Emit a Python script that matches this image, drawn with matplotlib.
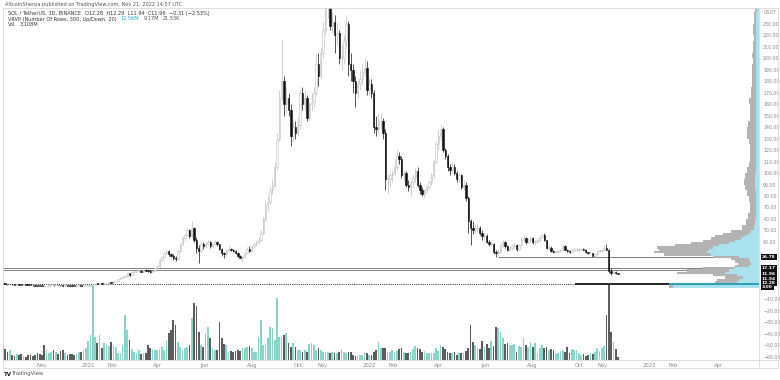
import numpy as np
import pandas as pd
import matplotlib
matplotlib.use("Agg")
import matplotlib.pyplot as plt
import matplotlib.dates as mdates
from matplotlib.lines import Line2D

# SOL/USDT, 3-day candles
closes = [
    3.4, 3.2, 3.0, 3.1, 2.9, 2.8, 3.0, 2.7, 2.6, 2.7,
    2.5, 2.4, 2.3, 2.0, 1.8, 1.6, 1.5, 1.4, 1.3, 1.7,
    2.0, 2.2, 2.1, 2.4, 2.2, 2.0, 1.9, 2.0, 1.9, 1.7,
    1.6, 1.5, 1.6, 1.6, 1.4, 1.5, 1.5, 1.8, 2.2, 3.0,
    3.4, 3.3, 3.5, 3.3, 3.6, 4.0, 4.5, 4.2, 5.5, 5.8,
    7.5, 8.8, 9.5, 10.5, 12.5, 11.5, 13.5, 14.2, 14.5, 15.0,
    14.0, 15.5, 14.8, 14.5, 14.0, 15.0, 17.0, 19.0, 24.0, 27.0,
    30.0, 32.0, 29.0, 28.0, 26.0, 25.0, 32.0, 38.0, 43.0, 46.0,
    50.0, 45.0, 52.0, 42.0, 35.0, 32.0, 38.0, 36.0, 38.0, 40.0,
    36.0, 38.0, 40.0, 38.0, 34.0, 30.0, 29.0, 33.0, 34.0, 33.0,
    32.0, 30.0, 28.0, 26.0, 27.0, 30.0, 34.0, 32.0, 36.0, 38.0,
    40.0, 42.0, 48.0, 60.0, 72.0, 75.0, 85.0, 90.0, 105.0, 130.0,
    165.0, 180.0, 160.0, 165.0, 155.0, 132.0, 140.0, 135.0, 142.0, 170.0,
    160.0, 165.0, 148.0, 160.0, 162.0, 170.0, 195.0, 185.0, 205.0, 225.0,
    245.0, 250.0, 228.0, 232.0, 220.0, 222.0, 200.0, 200.0, 215.0, 230.0,
    195.0, 190.0, 180.0, 170.0, 178.0, 182.0, 188.0, 192.0, 172.0, 178.0,
    170.0, 140.0, 138.0, 145.0, 145.0, 135.0, 95.0, 95.0, 98.0, 100.0,
    105.0, 115.0, 112.0, 98.0, 100.0, 90.0, 88.0, 92.0, 96.0, 102.0,
    90.0, 85.0, 82.0, 85.0, 88.0, 92.0, 98.0, 110.0, 125.0, 132.0,
    138.0, 120.0, 115.0, 105.0, 103.0, 105.0, 100.0, 95.0, 98.0, 88.0,
    90.0, 78.0, 58.0, 52.0, 50.0, 52.0, 52.0, 48.0, 45.0, 45.0,
    40.0, 38.0, 38.0, 31.0, 30.0, 31.0, 37.0, 40.0, 36.0, 33.0,
    35.0, 36.0, 37.0, 34.0, 37.0, 42.0, 43.0, 40.0, 42.0, 43.0,
    40.0, 40.0, 42.0, 44.0, 46.0, 42.0, 35.0, 35.0, 32.0, 31.0,
    31.0, 32.0, 33.0, 36.0, 33.0, 32.0, 31.0, 33.0, 33.0, 33.0,
    33.0, 34.0, 33.0, 31.0, 30.0, 30.0, 28.0, 29.0, 32.0, 32.0,
    33.0, 35.0, 33.0, 15.0, 13.0, 14.0, 12.5, 11.96,
]
highs = [
    3.6, 3.5, 3.3, 3.3, 3.2, 3.0, 3.2, 3.1, 2.8, 2.9,
    2.8, 2.6, 2.5, 2.4, 2.1, 1.9, 1.7, 1.6, 1.5, 1.8,
    2.2, 2.4, 2.4, 2.6, 2.5, 2.3, 2.1, 2.1, 2.1, 2.0,
    1.8, 1.7, 1.7, 1.8, 1.7, 1.6, 1.6, 1.9, 2.3, 3.3,
    3.9, 3.8, 3.7, 3.7, 3.8, 4.2, 4.8, 4.8, 5.8, 6.3,
    8.0, 9.5, 10.5, 11.5, 13.0, 13.2, 14.0, 16.0, 15.5, 16.5,
    15.8, 16.5, 16.0, 15.5, 15.2, 15.6, 17.5, 20.0, 25.0, 28.0,
    31.0, 34.0, 33.0, 30.0, 29.5, 27.5, 33.0, 39.0, 45.0, 47.0,
    52.0, 51.0, 58.0, 53.0, 44.0, 37.0, 40.0, 40.0, 40.0, 42.0,
    41.0, 39.0, 42.0, 41.0, 38.0, 35.0, 31.5, 34.0, 36.0, 35.0,
    34.0, 32.5, 31.0, 28.5, 28.0, 31.0, 35.5, 36.0, 37.0, 40.0,
    42.0, 44.0, 50.0, 62.0, 77.0, 80.0, 88.0, 95.0, 110.0, 135.0,
    172.0, 216.0, 185.0, 175.0, 170.0, 160.0, 145.0, 145.0, 148.0, 172.0,
    175.0, 172.0, 168.0, 162.0, 170.0, 175.0, 205.0, 205.0, 210.0, 232.0,
    255.0, 260.0, 252.0, 240.0, 238.0, 232.0, 225.0, 212.0, 220.0, 238.0,
    233.0, 205.0, 195.0, 185.0, 182.0, 190.0, 195.0, 200.0, 198.0, 182.0,
    182.0, 172.0, 150.0, 152.0, 152.0, 148.0, 138.0, 100.0, 102.0, 103.0,
    112.0, 120.0, 118.0, 115.0, 103.0, 102.0, 94.0, 93.0, 99.0, 104.0,
    105.0, 92.0, 88.0, 86.0, 90.0, 94.0, 100.0, 112.0, 127.0, 138.0,
    143.0, 140.0, 122.0, 117.0, 108.0, 110.0, 108.0, 102.0, 100.0, 99.0,
    94.0, 92.0, 80.0, 60.0, 58.0, 56.0, 56.0, 54.0, 50.0, 48.0,
    47.0, 42.0, 41.0, 39.0, 33.0, 34.0, 38.0, 42.0, 41.0, 37.0,
    36.0, 38.0, 39.0, 38.0, 38.0, 44.0, 46.0, 44.0, 43.0, 45.0,
    44.0, 42.0, 43.0, 45.0, 47.0, 48.0, 42.0, 37.0, 36.0, 33.0,
    32.5, 33.0, 34.0, 38.0, 37.0, 34.0, 33.0, 34.0, 35.0, 35.0,
    34.5, 35.0, 35.0, 34.0, 31.5, 31.0, 30.5, 30.0, 33.0, 33.5,
    34.0, 37.0, 38.5, 34.0, 17.5, 14.5, 14.5, 12.6,
]
lows = [
    3.2, 3.0, 2.8, 2.9, 2.8, 2.6, 2.7, 2.6, 2.5, 2.5,
    2.4, 2.3, 2.1, 1.9, 1.7, 1.5, 1.4, 1.3, 1.1, 1.3,
    1.6, 1.9, 1.9, 2.0, 2.1, 1.9, 1.8, 1.8, 1.8, 1.6,
    1.5, 1.4, 1.4, 1.5, 1.3, 1.3, 1.4, 1.4, 1.7, 2.1,
    2.7, 2.9, 3.1, 3.1, 3.2, 3.5, 3.9, 3.8, 4.1, 5.1,
    5.6, 7.2, 8.2, 9.0, 10.2, 10.5, 11.3, 13.0, 13.2, 14.0,
    13.5, 13.8, 14.2, 14.0, 13.2, 13.8, 14.7, 16.8, 18.5, 23.0,
    26.0, 29.0, 28.0, 27.0, 24.0, 23.5, 24.5, 31.0, 37.0, 41.0,
    45.0, 43.0, 44.0, 40.0, 30.0, 22.0, 31.0, 34.0, 35.0, 37.0,
    35.0, 35.0, 37.0, 36.0, 33.0, 28.0, 25.5, 28.0, 32.0, 32.0,
    31.0, 29.0, 27.0, 25.5, 22.5, 26.0, 29.5, 31.0, 31.5, 35.0,
    36.0, 38.0, 41.0, 47.0, 58.0, 67.0, 73.0, 82.0, 88.0, 103.0,
    128.0, 163.0, 150.0, 152.0, 150.0, 124.0, 128.0, 130.0, 132.0, 138.0,
    155.0, 155.0, 145.0, 146.0, 155.0, 158.0, 168.0, 176.0, 182.0, 200.0,
    220.0, 235.0, 225.0, 222.0, 205.0, 212.0, 195.0, 190.0, 195.0, 210.0,
    185.0, 180.0, 170.0, 158.0, 165.0, 172.0, 178.0, 185.0, 168.0, 168.0,
    165.0, 135.0, 132.0, 135.0, 138.0, 130.0, 85.0, 82.0, 88.0, 92.0,
    98.0, 103.0, 108.0, 96.0, 93.0, 88.0, 84.0, 80.0, 88.0, 92.0,
    88.0, 82.0, 80.0, 78.0, 83.0, 86.0, 90.0, 96.0, 108.0, 120.0,
    128.0, 118.0, 112.0, 102.0, 98.0, 100.0, 98.0, 92.0, 92.0, 86.0,
    85.0, 76.0, 48.0, 37.0, 47.0, 48.0, 49.0, 46.0, 42.0, 42.0,
    39.0, 36.0, 36.0, 29.0, 26.78, 28.0, 30.0, 35.0, 35.0, 32.0,
    32.0, 33.0, 35.0, 32.0, 33.0, 36.0, 40.0, 38.0, 39.0, 40.0,
    38.0, 37.0, 39.0, 41.0, 43.0, 41.0, 34.0, 33.0, 31.0, 30.0,
    30.0, 30.5, 31.0, 32.0, 32.5, 31.0, 30.0, 30.5, 32.0, 32.0,
    32.0, 32.5, 32.5, 30.0, 29.0, 29.0, 27.5, 27.5, 28.5, 31.0,
    31.5, 32.0, 32.5, 13.0, 11.5, 12.5, 12.2, 11.8,
]
first_open = 3.5

# volume (relative units, read as bar heights)
volumes = [
    12, 11, 8, 10, 5, 4, 6, 5, 6, 4, 3, 5, 5, 4, 5, 7, 6, 5, 15, 10,
    7, 8, 10, 8, 6, 9, 10, 7, 5, 6, 6, 5, 6, 8, 8, 10, 12,
    19, 25, 75, 23, 17, 25, 12, 17, 15, 14, 18, 14, 13, 7, 7, 15, 45, 30,
    20, 11, 8, 7, 10, 6, 7, 7, 15, 12, 10,
    10, 10, 11, 13, 10, 20, 27, 30, 40, 35, 18, 13, 10, 12, 13, 15, 42, 57, 54, 28,
    15, 13, 27, 33, 22, 12, 10, 10, 38, 22, 16, 15, 8, 9, 8, 9, 10, 9, 12, 12,
    13, 14, 12, 8, 8, 23, 40, 15, 16, 22, 33, 32, 20, 62, 23, 23, 25, 27, 17, 13,
    17, 13, 10, 10, 8, 10, 8, 16, 17, 15, 10, 12, 10, 8, 8, 8, 7, 8, 7, 7,
    8, 11, 8, 7, 8, 8, 5, 4, 4, 5, 5, 7, 7, 5, 5, 8, 10, 18, 12, 12,
    12, 8, 8, 10, 8, 9, 11,
    12, 8, 7, 7, 8, 11, 14, 12, 11, 8, 9, 7, 7, 7, 7, 12, 9, 15, 13, 11,
    8, 7, 7, 8, 5, 7, 7, 7, 9, 12, 35, 18, 15, 12, 11, 19, 13, 16, 12, 19,
    14, 33, 32, 28, 22, 16, 17, 15, 15, 16, 8, 14, 13, 22, 15, 13, 18, 13, 17, 7,
    12, 15, 12, 13, 10, 11, 10, 6, 7, 9, 10, 8, 13, 7, 11, 10, 10, 7, 5, 6,
    4, 5, 7, 6, 8, 12, 9, 12, 14, 45, 75, 28, 18, 11, 3,
]

# visible range volume profile (rows: low price, row height, up / down volume)
vp_low = list(range(0, 50, 2)) + list(range(50, 245, 5))
vp_step = [2] * 25 + [5] * 39
vp_up = [
    86, 90, 22, 20, 16, 22, 34, 30, 24, 10, 8, 9, 10, 20, 48, 52, 50, 46, 40, 30,
    24, 18, 14, 10, 8,
    5, 4, 3, 3, 3, 3, 3, 4, 4, 4, 3, 3, 3, 3, 3, 3, 3, 3, 3, 3,
    3, 3, 3, 3, 3, 3, 3, 3, 3, 3, 3, 3, 3, 3, 3, 3, 3, 3, 2,
]
vp_down = [
    4, 94, 22, 22, 18, 24, 48, 42, 32, 14, 13, 15, 18, 26, 47, 53, 50, 56, 44, 38,
    32, 30, 30, 26, 20,
    12, 9, 8, 6, 6, 7, 9, 10, 11, 10, 9, 7, 6, 6, 6, 7, 9, 9, 8, 6,
    6, 6, 7, 5, 5, 4, 4, 4, 4, 3, 4, 3, 3, 2, 3, 3, 2, 2, 2,
]

# drawn levels
level_prices = [26.78, 17.17, 15.86]
level_starts = ["2022-06-18", "2020-09-08", "2020-09-08"]
dotted_level = 3.00
last_price = 11.96

dates = pd.date_range("2020-09-11", periods=len(closes), freq="3D")
x = mdates.date2num(dates)
c = np.array(closes)
o = np.r_[first_open, c[:-1]]
h = np.maximum(np.array(highs), np.maximum(o, c))
l = np.minimum(np.array(lows), np.minimum(o, c))
up = c >= o

W, H = 780, 380
fig = plt.figure(figsize=(W / 100, H / 100), dpi=100)
fig.patch.set_facecolor("white")
rect = [3 / W, 20 / H, 756 / W, 352 / H]

x_left = mdates.date2num(pd.Timestamp("2020-11-01")) - 50.8
x_right = mdates.date2num(pd.Timestamp("2020-11-01")) + 933.6
p_low, p_high = -63.0, 243.9

# volume pane (behind)
axv = fig.add_axes(rect)
axv.bar(x, volumes, width=2.2, color=np.where(up, "#8ad5cb", "#5c5c5c"), linewidth=0)
axv.set_xlim(x_left, x_right)
axv.set_ylim(0, max(volumes) * 352 / 75)
axv.axis("off")

# price pane
ax = fig.add_axes(rect)
ax.patch.set_alpha(0)
for lv, st in zip(level_prices, level_starts):
    ax.hlines(lv, mdates.date2num(pd.Timestamp(st)), x_right, color="#6b6b6b", lw=0.6, zorder=1)
ax.axhline(dotted_level, color="#333333", lw=0.7, ls=(0, (1, 1.2)), zorder=1)

ax.vlines(x[up], l[up], h[up], color="#bdbdbd", lw=0.5, zorder=2)
ax.vlines(x[~up], l[~up], h[~up], color="#111111", lw=0.5, zorder=2)
body_lo = np.minimum(o, c)
body_h = np.maximum(np.abs(c - o), 0.6)
ax.bar(x[up], body_h[up], bottom=body_lo[up], width=1.8, facecolor="white",
       edgecolor="#bdbdbd", linewidth=0.4, zorder=3)
ax.bar(x[~up], body_h[~up], bottom=body_lo[~up], width=1.8, facecolor="#111111",
       edgecolor="#111111", linewidth=0.4, zorder=3)

ax.set_xlim(x_left, x_right)
ax.set_ylim(p_low, p_high)
for s in ax.spines.values():
    s.set_visible(False)

# price axis on the right
yt = [v for v in range(-60, 240, 10) if v not in (0, 10, 20, 30)]
ax.yaxis.tick_right()
ax.set_yticks(yt + [240])
ax.set_yticklabels([f"{v:.2f}".replace("-", "\u2212") for v in yt] + ["USDT"])
ax.tick_params(axis="y", length=0, pad=3, labelsize=3.4, labelcolor="#8a8a8a")

# date axis
tick_dates = ["2020-11-01", "2021-01-01", "2021-02-01", "2021-04-01", "2021-06-01",
              "2021-08-01", "2021-10-01", "2021-11-01", "2022-01-01", "2022-02-01",
              "2022-04-01", "2022-06-01", "2022-08-01", "2022-10-01", "2022-11-01",
              "2023-01-01", "2023-02-01", "2023-04-01"]
tick_labels = ["Nov", "2021", "Feb", "Apr", "Jun", "Aug", "Oct", "Nov", "2022", "Feb",
               "Apr", "Jun", "Aug", "Oct", "Nov", "2023", "Feb", "Apr"]
ax.set_xticks(mdates.date2num(pd.to_datetime(tick_dates)))
ax.set_xticklabels(tick_labels)
ax.tick_params(axis="x", length=0, pad=2, labelsize=3.8, labelcolor="#8a8a8a")

# volume profile on top, 1 unit = 1 px measured from the price axis
axp = fig.add_axes(rect)
axp.patch.set_alpha(0)
vu = np.array(vp_up)
vd = np.array(vp_down)
poc = int(np.argmax(vu + vd))
cu = ["#2f9fb3" if i == poc else "#a9e2ee" for i in range(len(vu))]
cd = ["#2a2a2a" if i == poc else "#b3b3b3" for i in range(len(vu))]
axp.barh(vp_low, vu, height=vp_step, left=0, align="edge", color=cu, linewidth=0)
axp.barh(vp_low, vd, height=vp_step, left=vu, align="edge", color=cd, linewidth=0)
axp.set_xlim(756, 0)
axp.set_ylim(p_low, p_high)
axp.axis("off")

# price tags on the axis
def tag(price, text, dy=0):
    ax.annotate(text, xy=(1.0, price), xycoords=ax.get_yaxis_transform(),
                xytext=(3, dy), textcoords="offset pixels", fontsize=3.2, color="white",
                va="center", ha="left", fontweight="bold", zorder=10, annotation_clip=False,
                bbox=dict(boxstyle="square,pad=0.2", fc="#111111", ec="none"))

tag(level_prices[0], "26.78")
tag(level_prices[1], "17.17")
tag(last_price, "11.96")
tag(last_price, "11.94", dy=-4.7)
tag(last_price, "12.28", dy=-9.4)
tag(dotted_level, "3.00", dy=-3)
ax.annotate("300.0007", xy=(1.0, last_price), xycoords=ax.get_yaxis_transform(),
            xytext=(-2, 0), textcoords="offset pixels", fontsize=3.2, color="white",
            va="center", ha="right", fontweight="bold", zorder=10,
            bbox=dict(boxstyle="square,pad=0.2", fc="#111111", ec="none"))

# frame lines
def fline(x0, y0, x1, y1, col="#d6d9de"):
    fig.add_artist(Line2D([x0 / W, x1 / W], [1 - y0 / H, 1 - y1 / H], color=col, lw=0.6))

fline(3, 8, 778, 8)
fline(3, 8, 3, 368)
fline(778, 8, 778, 368)
fline(3, 368, 778, 368)
fline(759, 8, 759, 368)
fline(3, 360, 778, 360)

# header, pieces placed one after another
renderer = fig.canvas.get_renderer()

def text_row(x0, y0, parts, size=3.6):
    xp = x0
    for s, col in parts:
        t = fig.text(xp / W, 1 - y0 / H, s, fontsize=size, color=col, va="center")
        xp += t.get_window_extent(renderer).width + 4

text_row(5, 4.5, [("AltcoinSherpa published on TradingView.com, Nov 21, 2022 14:57 UTC", "#555555")])
text_row(8, 13, [("SOL / TetherUS, 3D, BINANCE", "#333333"),
                 ("O12.28  H12.29  L11.94  C11.96  \u22120.31 (\u22122.53%)", "#333333")])
text_row(8, 19, [("VRVP (Number Of Rows, 300, Up/Down, 20)", "#333333"),
                 ("12.56M", "#2aa4c8"), ("9.17M", "#555555"), ("21.53K", "#555555")])
text_row(8, 25, [("Vol", "#333333"), ("3.108M", "#333333")])
fig.text(4 / W, 1 - 374 / H, "TV", fontsize=4, color="#131722", fontweight="bold", va="center")
fig.text(12 / W, 1 - 374 / H, "TradingView", fontsize=3.8, color="#555555", va="center")

fig.savefig("out.png", dpi=100)
